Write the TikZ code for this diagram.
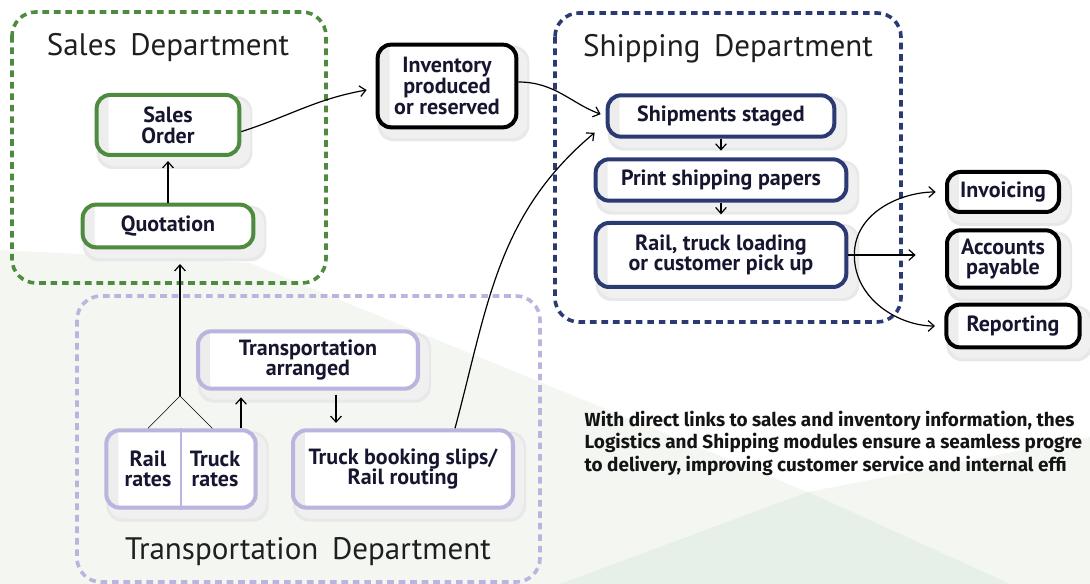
\documentclass[tikz,border=0pt]{standalone}
\usepackage{fontspec}
\setmainfont{PT Sans}
\newfontfamily\notefont{Fira Sans}
\usetikzlibrary{arrows.meta,positioning}

\definecolor{salesgreen}{RGB}{78,139,62}
\definecolor{shipblue}{RGB}{44,58,116}
\definecolor{translav}{RGB}{186,180,222}
\definecolor{boxtext}{RGB}{22,22,48}
\definecolor{bgtint}{RGB}{243,246,241}
\definecolor{bgtint2}{RGB}{231,240,232}

\pgfdeclarelayer{background}
\pgfsetlayers{background,main}

\tikzset{every picture/.style={line width=0.75pt}}
\tikzset{
  dept/.style={line width=2.7pt, dash pattern=on 5pt off 3.6pt, rounded corners=18pt},
  depttitle/.style={anchor=base, font=\fontsize{23.3}{26}\selectfont, text=black!88},
  stepbox/.style={draw, line width=3pt, rounded corners=10pt, fill=black!7, align=center,
    font=\fontsize{16.5}{15.5}\selectfont\bfseries, text=boxtext, inner sep=1pt,
    path picture={\fill[white, rounded corners=7pt]
      ([shift={(9pt,6pt)}]path picture bounding box.north west) rectangle
      ([shift={(-2pt,-2pt)}]path picture bounding box.south east);}},
  salesbox/.style={stepbox, draw=salesgreen},
  shipbox/.style={stepbox, draw=shipblue},
  transbox/.style={stepbox, draw=translav},
  outbox/.style={stepbox, draw=black},
  boxshadow/.style={fill=black!9, rounded corners=12pt},
  boxlabel/.style={align=center, font=\fontsize{16.5}{15.5}\selectfont\bfseries, text=boxtext},
  notetext/.style={anchor=base west, font=\notefont\bfseries\fontsize{14.2}{17}\selectfont, text=black!92},
  link/.style={-{Straight Barb[length=4.5pt,width=8pt]}, line width=0.9pt},
}

\begin{document}
\begin{tikzpicture}[x=0.75pt,y=0.75pt,yscale=-1,xscale=1]
	\useasboundingbox (0,0) rectangle (1090,584);
	\clip (0,0) rectangle (1090,584);

	% sales
	\node[salesbox, minimum width=107pt, minimum height=45pt] (order) at (168,125) {Sales\\Order};
	\node[salesbox, minimum width=128pt, minimum height=32pt] (quote) at (168,226) {Quotation};
	% inventory
	\node[outbox, minimum width=104pt, minimum height=62pt] (inventory) at (447,86) {Inventory\\produced\\or reserved};
	% shipping
	\node[shipbox, minimum width=170pt, minimum height=31pt] (staged) at (721,116) {Shipments staged};
	\node[shipbox, minimum width=188pt, minimum height=31pt] (papers) at (721,180) {Print shipping papers};
	\node[shipbox, minimum width=188pt, minimum height=48pt] (loading) at (721,255) {Rail, truck loading\\or customer pick up};
	% outputs
	\node[outbox, minimum width=84pt, minimum height=30pt] (invoicing) at (1003,192) {Invoicing};
	\node[outbox, minimum width=84pt, minimum height=43pt] (payable) at (1003,259) {Accounts\\payable};
	\node[outbox, minimum width=100pt, minimum height=32pt] (reporting) at (1013,326) {Reporting};
	% transportation
	\node[transbox, minimum width=165pt, minimum height=43pt] (arranged) at (308,360) {Transportation\\arranged};
	\node[transbox, minimum width=112pt, minimum height=58pt] (rates) at (181,469) {};
	\draw[translav, line width=1pt] (rates.north) -- (rates.south) ;
	\node[boxlabel] (railrates) at (148,469) {Rail\\rates};
	\node[boxlabel] (truckrates) at (215,469) {Truck\\rates};
	\node[transbox, minimum width=165pt, minimum height=58pt] (booking) at (403,469) {Truck booking slips/\\Rail routing};

	\begin{pgfonlayer}{background}
		% background tint
		\fill[bgtint] (0,250) -- (250,263) -- (808,492) -- (1090,437) -- (1090,584) -- (0,584) -- cycle ;
		\fill[bgtint2] (560,584) -- (808,492) -- (1010,584) -- cycle ;
		% departments
		\draw[dept, salesgreen] (12,12) rectangle (326,283) ;
		\draw[dept, translav] (77,296) rectangle (540,582) ;
		\draw[dept, shipblue] (555,13) rectangle (901,322) ;
		% shadows
		\foreach \n in {order,quote,inventory,staged,papers,loading,invoicing,payable,reporting,arranged,rates,booking} {
			\fill[boxshadow] ([shift={(2,3)}]\n.north west) rectangle ([shift={(11,12)}]\n.south east) ;
			\fill[boxshadow, black!6] ([shift={(4,5)}]\n.north west) rectangle ([shift={(9,9)}]\n.south east) ;
		}
	\end{pgfonlayer}

	\node[depttitle] (salestitle) at (168,56) {Sales\hspace{4pt} Department};
	\node[depttitle] (shiptitle) at (728,57) {Shipping\hspace{4pt} Department};
	\node[depttitle] (transtitle) at (308,560) {Transportation\hspace{4pt} Department};

	% connectors
	\coordinate (fork) at (180,396);
	\draw (fork) -- (railrates.north |- rates.north) ;
	\draw (fork) -- ([xshift=-2pt]truckrates.north |- rates.north) ;
	\draw[link, shorten >=11pt] (fork) -- (fork |- quote.south) ;
	\draw[link, shorten >=3pt] (quote) -- (order) ;
	\draw[link] ([yshift=5pt]order.east) to[out=-18,in=170] ([shift={(-9,4)}]inventory.west) ;
	\draw[link, shorten >=4pt] ([yshift=-3pt]inventory.east) to[out=0,in=200] (staged.west) ;
	\draw[link] ([xshift=39pt]booking.north) to[out=-75,in=140] ([shift={(-11,-6)}]staged.south west) ;
	\draw[link, shorten >=5pt] ([xshift=45pt]rates.north) -- ([xshift=45pt]rates.north |- arranged.south) ;
	\draw[link, shorten <=3pt, shorten >=4pt] ([xshift=21pt]arranged.south) -- ([xshift=21pt]arranged.south |- booking.north) ;
	\draw[link, shorten >=5pt] (staged) -- (papers) ;
	\draw[link, shorten >=5pt] (papers) -- (loading) ;
	\draw[link, shorten >=22pt] (loading.east) -- (loading.east -| payable.west) ;
	\coordinate (split) at ([xshift=4.5pt]loading.east);
	\draw[link, shorten >=7pt] (split) to[out=-90,in=180] (invoicing.west) ;
	\draw[link, shorten >=7pt] (split) to[out=90,in=180] (reporting.west) ;

	% note
	\node[notetext] (note1) at (580,427) {With direct links to sales and inventory information, thes};
	\node[notetext] (note2) at (580,449) {Logistics and Shipping modules ensure a seamless progre};
	\node[notetext] (note3) at (580,472) {to delivery, improving customer service and internal effi};
\end{tikzpicture}
\end{document}
